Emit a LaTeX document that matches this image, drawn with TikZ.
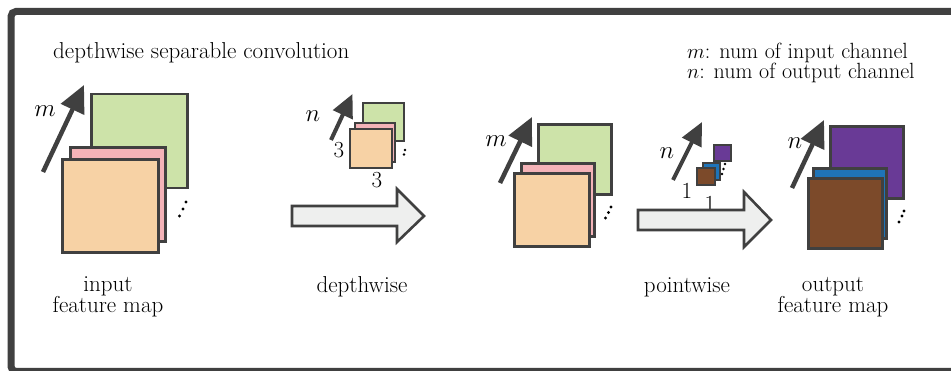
\documentclass[tikz,border=0pt]{standalone}
\usetikzlibrary{arrows.meta}
\definecolor{cgreen}{HTML}{CDE3A9}
\definecolor{cpink}{HTML}{F4B3B8}
\definecolor{corange}{HTML}{F7D2A5}
\definecolor{cpurple}{HTML}{693A96}
\definecolor{cblue}{HTML}{1F74B8}
\definecolor{cbrown}{HTML}{7C4A2A}
\definecolor{cline}{HTML}{404040}
\definecolor{carrow}{HTML}{EEEFEE}
\tikzset{
  fmap/.style={draw=cline, line width=2.6pt, rectangle, inner sep=0pt, outer sep=0pt},
  kmap/.style={draw=cline, line width=2pt, rectangle, inner sep=0pt, outer sep=0pt},
  chan/.style={draw=cline, line width=4.5pt, -{Triangle[length=27pt,width=25pt]}},
  chans/.style={draw=cline, line width=4pt, -{Triangle[length=23pt,width=21pt]}},
  bigarrow/.style={draw=cline, fill=carrow, line width=2.6pt, line join=miter},
  dotc/.style={fill=black},
  txt/.style={font=\fontsize{23}{20}\selectfont, inner sep=0pt, align=center},
}
\begin{document}
\begin{tikzpicture}[x=1pt,y=-1pt]
\useasboundingbox (0,0) rectangle (951,371);
\clip (0,0) rectangle (951,371);
\fill[white] (0,0) rectangle (951,371);
\draw[cline, line width=7pt, rounded corners=5pt] (11,11.5) rectangle (990,371.5);

% title and legend
\node[txt, anchor=west] (title) at (53,53) {depthwise separable convolution};
\node[txt, anchor=north west, align=left, font=\fontsize{22}{20}\selectfont] (legend) at (687,43) {$m$: num of input channel\\$n$: num of output channel};

% input feature map
\node[fmap, fill=cgreen, minimum width=96pt, minimum height=94pt] (ig) at (139.5,141) {};
\node[fmap, fill=cpink, minimum width=95pt, minimum height=94pt] (ip) at (118,194.5) {};
\node[fmap, fill=corange, minimum width=96pt, minimum height=93pt] (io) at (110.5,206) {};
\coordinate (ia0) at (43,172); \coordinate (ia1) at (84,85);
\draw[chan] (ia0) -- (ia1);
\node[txt] (im) at (45,111) {$m$};
\fill[dotc] (186,202) circle (1.6) (183,209) circle (1.6) (179.5,216) circle (1.6);
\node[txt] (inlab) at (108,297) {input\\feature map};

% depthwise kernel
\node[kmap, fill=cgreen, minimum width=41pt, minimum height=38pt] (dg) at (383,122.5) {};
\node[kmap, fill=cpink, minimum width=40pt, minimum height=39pt] (dp) at (374.5,143) {};
\node[kmap, fill=corange, minimum width=42pt, minimum height=39pt] (do) at (370.5,149) {};
\coordinate (da0) at (331,140); \coordinate (da1) at (352.5,94);
\draw[chans] (da0) -- (da1);
\node[txt] (dn) at (313,116) {$n$};
\node[txt] (d3a) at (339,150) {3};
\node[txt] (d3b) at (377,180) {3};
\fill[dotc] (405,150) circle (1.3) (404,154.5) circle (1.3);

% depthwise big arrow
\coordinate (b1) at (292,206); \coordinate (b2) at (397,206); \coordinate (b3) at (397,189);
\coordinate (b4) at (424,216); \coordinate (b5) at (397,242); \coordinate (b6) at (397,226);
\coordinate (b7) at (292,226);
\draw[bigarrow] (b1) -- (b2) -- (b3) -- (b4) -- (b5) -- (b6) -- (b7) -- cycle;
\node[txt] (dlab) at (362,287) {depthwise};

% middle feature map
\node[fmap, fill=cgreen, minimum width=73pt, minimum height=70pt] (mg) at (575,159.5) {};
\node[fmap, fill=cpink, minimum width=73pt, minimum height=73pt] (mp) at (558,200) {};
\node[fmap, fill=corange, minimum width=75pt, minimum height=73pt] (mo) at (552,210) {};
\coordinate (ma0) at (500,183); \coordinate (ma1) at (532,117);
\draw[chan] (ma0) -- (ma1);
\node[txt] (mm) at (496,141) {$m$};
\fill[dotc] (611,207) circle (1.6) (608.5,212.5) circle (1.6) (605.5,218) circle (1.6);

% pointwise kernel
\node[kmap, fill=cpurple, minimum width=17pt, minimum height=16pt] (pp) at (722,153.5) {};
\node[kmap, fill=cblue, minimum width=17pt, minimum height=17pt] (pb) at (711,172) {};
\node[kmap, fill=cbrown, minimum width=18pt, minimum height=17pt] (pr) at (705.5,177) {};
\coordinate (pa0) at (673,180); \coordinate (pa1) at (702,122);
\draw[chans] (pa0) -- (pa1);
\node[txt] (pn) at (667,153) {$n$};
\node[txt] (p1a) at (687,191) {1};
\node[txt] (p1b) at (710,204) {1};
\fill[dotc] (725,164) circle (1.3) (723.5,169) circle (1.3) (722,174) circle (1.3);

% pointwise big arrow
\coordinate (c1) at (638,210); \coordinate (c2) at (744,210); \coordinate (c3) at (744,192);
\coordinate (c4) at (771,220); \coordinate (c5) at (744,247); \coordinate (c6) at (744,230);
\coordinate (c7) at (638,230);
\draw[bigarrow] (c1) -- (c2) -- (c3) -- (c4) -- (c5) -- (c6) -- (c7) -- cycle;
\node[txt] (plab) at (687,287) {pointwise};

% output feature map
\node[fmap, fill=cpurple, minimum width=73pt, minimum height=72pt] (og) at (867,162.5) {};
\node[fmap, fill=cblue, minimum width=73pt, minimum height=70pt] (ob) at (850,203.5) {};
\node[fmap, fill=cbrown, minimum width=74pt, minimum height=70pt] (oo) at (845.5,213.5) {};
\coordinate (oa0) at (792,188); \coordinate (oa1) at (824,120);
\draw[chan] (oa0) -- (oa1);
\node[txt] (on) at (795,143) {$n$};
\fill[dotc] (904,211) circle (1.6) (902,216) circle (1.6) (899,222) circle (1.6);
\node[txt] (olab) at (833,297) {output\\feature map};
\end{tikzpicture}
\end{document}
